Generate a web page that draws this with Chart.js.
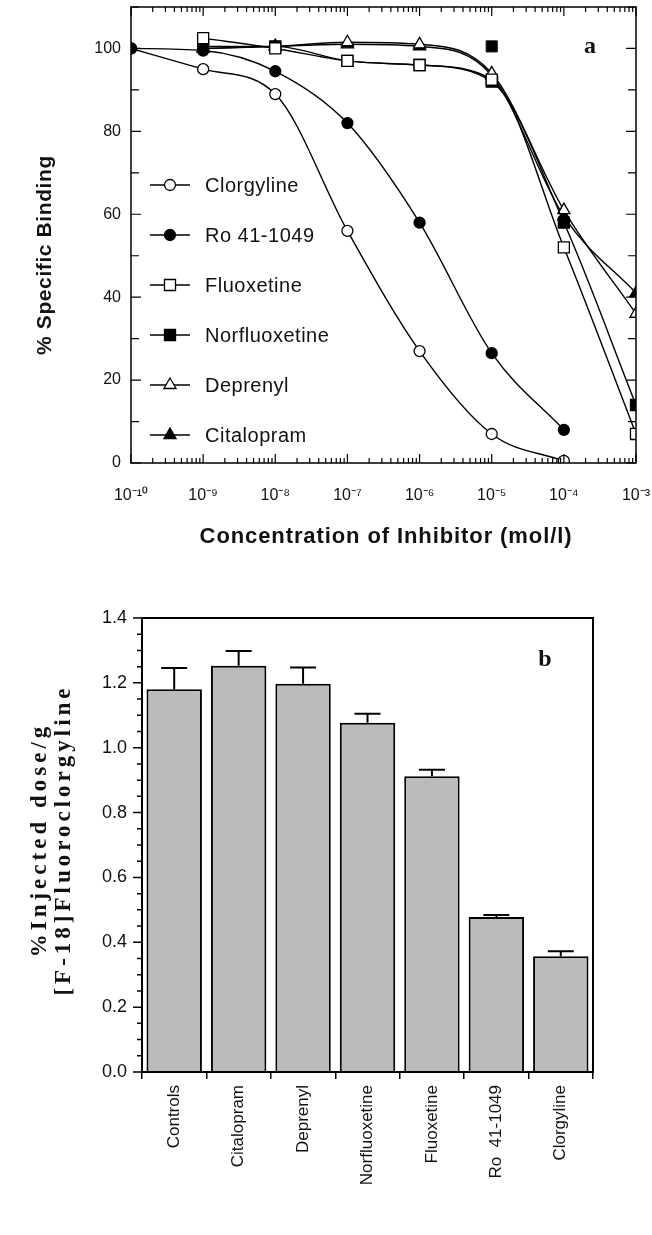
<!DOCTYPE html>
<html>
<head>
<meta charset="utf-8">
<script src="https://cdn.jsdelivr.net/npm/chart.js@4.4.1/dist/chart.umd.min.js"></script>
<style>
  body { margin: 0; background: #fff; }
  #wrap { position: relative; width: 652px; height: 1235px; }
  canvas { position: absolute; left: 0; }
  #chartA { top: 0; }
  #chartB { top: 560px; }
</style>
</head>
<body>
<div id="wrap">
  <canvas id="chartA" width="652" height="560"></canvas>
  <canvas id="chartB" width="652" height="675"></canvas>
</div>
<script>
// ---- datos panel a (% unión específica frente a concentración) ----
const concentraciones = [1e-10, 1e-9, 1e-8, 1e-7, 1e-6, 1e-5, 1e-4, 1e-3];
const clorgyline    = [100, 95, 89, 56, 27, 7, 0.5, null];
const ro411049      = [100, 99.5, 94.5, 82, 58, 26.5, 8, null];
const fluoxetine    = [null, 102.5, 100, 97, 96, 92.5, 52, 7];
const norfluoxetine = [null, 100.5, 100.5, 97, 96, 92, 58, 14];
const norfluoxetineAparte = [null, null, null, null, null, 100.5, null, null];
const deprenyl      = [null, 100, 100.5, 101.5, 101, 94, 61, 36];
const citalopram    = [null, 100, 100.5, 101, 100.5, 93.5, 59.5, 41];
const decadas = [1e-10, 1e-9, 1e-8, 1e-7, 1e-6, 1e-5, 1e-4, 1e-3];
const ticksBinding = [0, 20, 40, 60, 80, 100];

// ---- datos panel b (dosis inyectada) ----
const tratamientos = ['Controls', 'Citalopram', 'Deprenyl', 'Norfluoxetine', 'Fluoxetine', 'Ro  41-1049', 'Clorgyline'];
const dosis        = [1.18, 1.253, 1.197, 1.077, 0.912, 0.478, 0.357];
const errores      = [0.066, 0.045, 0.050, 0.028, 0.020, 0.006, 0.015];
const ticksDosis   = [0, 0.2, 0.4, 0.6, 0.8, 1.0, 1.2, 1.4];

const SANS = "'Liberation Sans', Arial, sans-serif";
const SERIF = "'Liberation Serif', 'Times New Roman', serif";
Chart.defaults.font.family = SANS;
Chart.defaults.color = '#111';

const sup = { '-': '\u207B', '0': '\u2070', '1': '\u00B9', '2': '\u00B2', '3': '\u00B3', '4': '\u2074',
              '5': '\u2075', '6': '\u2076', '7': '\u2077', '8': '\u2078', '9': '\u2079' };
function etiquetaPotencia(v) {
    const e = Math.round(Math.log10(v)).toString();
    return '10' + e.split('').map(c => sup[c]).join('');
}

function puntos(arr) {
    return concentraciones.map((c, i) => ({ x: c, y: arr[i] })).filter(p => p.y !== null);
}

// sin márgenes extra de las escalas: el área del gráfico queda donde dice layout.padding
function sinRelleno(s) {
    s.paddingLeft = 0; s.paddingRight = 0; s.paddingTop = 0; s.paddingBottom = 0;
}

// estilo de cada serie: [etiqueta, datos, forma, relleno, radio]
const series = [
    ['Clorgyline', clorgyline, 'circle', false, 5.5],
    ['Ro 41-1049', ro411049, 'circle', true, 5.5],
    ['Fluoxetine', fluoxetine, 'rect', false, 7.8],
    ['Norfluoxetine', norfluoxetine, 'rect', true, 7.8],
    ['Deprenyl', deprenyl, 'triangle', false, 7],
    ['Citalopram', citalopram, 'triangle', true, 7]
];

const datasetsA = series.map((s, i) => ({
    label: s[0],
    data: puntos(s[1]),
    order: i === 1 ? -1 : i,
    pointStyle: s[2],
    pointRadius: s[4],
    pointBackgroundColor: s[3] ? '#000' : '#fff',
    pointBorderColor: '#000',
    pointBorderWidth: 1.3,
    borderColor: '#000',
    borderWidth: 1.4,
    cubicInterpolationMode: 'monotone',
    fill: false
}));
datasetsA.push({
    label: 'Norfluoxetine',
    data: puntos(norfluoxetineAparte),
    showLine: false,
    pointStyle: 'rect',
    pointRadius: 7.8,
    pointBackgroundColor: '#000',
    pointBorderColor: '#000'
});

function dibujarForma(ctx, forma, x, y, r, relleno) {
    ctx.beginPath();
    if (forma === 'circle') {
        ctx.arc(x, y, r, 0, Math.PI * 2);
    } else if (forma === 'rect') {
        const l = r * Math.SQRT1_2;
        ctx.rect(x - l, y - l, 2 * l, 2 * l);
    } else {
        const h = r * 1.5, w = r * Math.sqrt(3) / 2;
        ctx.moveTo(x, y - r);
        ctx.lineTo(x + w, y + h - r);
        ctx.lineTo(x - w, y + h - r);
        ctx.closePath();
    }
    ctx.fillStyle = relleno ? '#000' : '#fff';
    ctx.fill();
    ctx.stroke();
}

const decoracionA = {
    id: 'decoracionA',
    afterDraw(chart) {
        const { ctx, chartArea: a, scales: { x, y } } = chart;
        ctx.save();
        ctx.strokeStyle = '#000';
        ctx.lineWidth = 1.5;
        ctx.strokeRect(a.left, a.top, a.right - a.left, a.bottom - a.top);

        // marcas hacia dentro (eje log: 1..9 por década)
        ctx.lineWidth = 1.2;
        ctx.beginPath();
        decadas.forEach(d => {
            for (let m = 1; m <= 9; m++) {
                const v = d * m;
                if (v > 1e-3 * 1.0001) break;
                const px = x.getPixelForValue(v);
                const len = m === 1 ? 9 : 5;
                ctx.moveTo(px, a.bottom); ctx.lineTo(px, a.bottom - len);
                ctx.moveTo(px, a.top); ctx.lineTo(px, a.top + len);
            }
        });
        for (let v = 0; v <= 110; v += 10) {
            const py = y.getPixelForValue(v);
            const len = v % 20 === 0 ? 10 : 8;
            ctx.moveTo(a.left, py); ctx.lineTo(a.left + len, py);
            ctx.moveTo(a.right, py); ctx.lineTo(a.right - len, py);
        }
        ctx.stroke();

        // leyenda dentro del gráfico
        ctx.font = '20px ' + SANS;
        ctx.letterSpacing = '0.5px';
        ctx.textBaseline = 'middle';
        ctx.textAlign = 'left';
        series.forEach((s, i) => {
            const ly = 185 + i * 50;
            ctx.lineWidth = 1.4;
            ctx.beginPath();
            ctx.moveTo(150, ly); ctx.lineTo(190, ly);
            ctx.stroke();
            ctx.lineWidth = 1.3;
            dibujarForma(ctx, s[2], 170, ly, s[4], s[3]);
            ctx.fillStyle = '#111';
            ctx.fillText(s[0], 205, ly + 1);
        });

        // título eje y
        ctx.save();
        ctx.translate(45, 255);
        ctx.rotate(-Math.PI / 2);
        ctx.textAlign = 'center';
        ctx.font = 'bold 21px ' + SANS;
        ctx.letterSpacing = '0.6px';
        ctx.fillStyle = '#111';
        ctx.fillText('% Specific Binding', 0, 0);
        ctx.restore();

        // título eje x
        ctx.font = 'bold 22px ' + SANS;
        ctx.letterSpacing = '0.9px';
        ctx.textAlign = 'center';
        ctx.fillStyle = '#111';
        ctx.fillText('Concentration of Inhibitor (mol/l)', 386, 537);

        ctx.letterSpacing = '0px';
        ctx.font = 'bold 24px ' + SERIF;
        ctx.fillText('a', 590, 47);
        ctx.restore();
    }
};

new Chart(document.getElementById('chartA'), {
    type: 'line',
    data: { datasets: datasetsA },
    options: {
        responsive: false,
        animation: false,
        layout: { autoPadding: false, padding: { top: 7, right: 16, left: 0, bottom: 0 } },
        plugins: { legend: { display: false }, tooltip: { enabled: false } },
        scales: {
            x: {
                type: 'logarithmic',
                min: 1e-10,
                max: 1e-3,
                afterBuildTicks: s => { s.ticks = decadas.map(v => ({ value: v })); },
                afterFit: s => { s.height = 97; sinRelleno(s); },
                grid: { drawOnChartArea: false, drawTicks: false },
                border: { display: false },
                ticks: { callback: v => etiquetaPotencia(v), padding: 23, font: { size: 16 }, maxRotation: 0, autoSkip: false }
            },
            y: {
                min: 0,
                max: 110,
                afterBuildTicks: s => { s.ticks = ticksBinding.map(v => ({ value: v })); },
                afterFit: s => { s.width = 131; sinRelleno(s); },
                grid: { drawOnChartArea: false, drawTicks: false },
                border: { display: false },
                ticks: { padding: 10, font: { size: 16 } }
            }
        }
    },
    plugins: [decoracionA]
});

// ---- panel b ----
const decoracionB = {
    id: 'decoracionB',
    afterDatasetsDraw(chart) {
        const { ctx, scales: { y } } = chart;
        const meta = chart.getDatasetMeta(0);
        ctx.save();
        ctx.strokeStyle = '#000';
        ctx.lineWidth = 2;
        ctx.beginPath();
        meta.data.forEach((el, i) => {
            const yTop = y.getPixelForValue(dosis[i] + errores[i]);
            ctx.moveTo(el.x, el.y); ctx.lineTo(el.x, yTop);
            ctx.moveTo(el.x - 13, yTop); ctx.lineTo(el.x + 13, yTop);
        });
        ctx.stroke();
        ctx.restore();
    },
    afterDraw(chart) {
        const { ctx, chartArea: a, scales: { y } } = chart;
        ctx.save();
        ctx.strokeStyle = '#000';
        ctx.lineWidth = 2;
        ctx.strokeRect(a.left, a.top, a.right - a.left, a.bottom - a.top);

        ctx.lineWidth = 1.5;
        ctx.beginPath();
        for (let k = 0; k <= 28; k++) {
            const py = y.getPixelForValue(k * 0.05);
            const len = k % 4 === 0 ? 9 : 5;
            ctx.moveTo(a.left, py); ctx.lineTo(a.left - len, py);
        }
        ctx.stroke();

        // título eje y en dos líneas, serif espaciado
        ctx.save();
        ctx.fillStyle = '#111';
        ctx.font = 'bold 23px ' + SERIF;
        ctx.textAlign = 'center';
        ctx.textBaseline = 'middle';
        ctx.letterSpacing = '4px';
        ctx.translate(0, 280);
        ctx.rotate(-Math.PI / 2);
        ctx.fillText('%Injected dose/g', 0, 40);
        ctx.fillText('[F-18]Fluoroclorgyline', 0, 64);
        ctx.restore();

        ctx.font = 'bold 24px ' + SERIF;
        ctx.textAlign = 'center';
        ctx.fillStyle = '#111';
        ctx.fillText('b', 545, 106);
        ctx.restore();
    }
};

new Chart(document.getElementById('chartB'), {
    type: 'bar',
    data: {
        labels: tratamientos,
        datasets: [{
            data: dosis,
            backgroundColor: '#bbbbbb',
            borderColor: '#000',
            borderWidth: 2,
            barPercentage: 0.86,
            categoryPercentage: 1
        }]
    },
    options: {
        responsive: false,
        animation: false,
        layout: { autoPadding: false, padding: { top: 58, right: 59, left: 0, bottom: 0 } },
        plugins: { legend: { display: false }, tooltip: { enabled: false } },
        scales: {
            x: {
                afterFit: s => { s.height = 163; sinRelleno(s); },
                grid: { offset: true, drawOnChartArea: false, tickLength: 7, color: '#000', lineWidth: 1.5 },
                border: { display: false },
                ticks: { minRotation: 90, maxRotation: 90, padding: 6, font: { size: 17 }, autoSkip: false }
            },
            y: {
                min: 0,
                max: 1.4,
                afterBuildTicks: s => { s.ticks = ticksDosis.map(v => ({ value: v })); },
                afterFit: s => { s.width = 142; sinRelleno(s); },
                grid: { drawOnChartArea: false, drawTicks: false },
                border: { display: false },
                ticks: { padding: 15, font: { size: 18 }, callback: v => v.toFixed(1) }
            }
        }
    },
    plugins: [decoracionB]
});
</script>
</body>
</html>
